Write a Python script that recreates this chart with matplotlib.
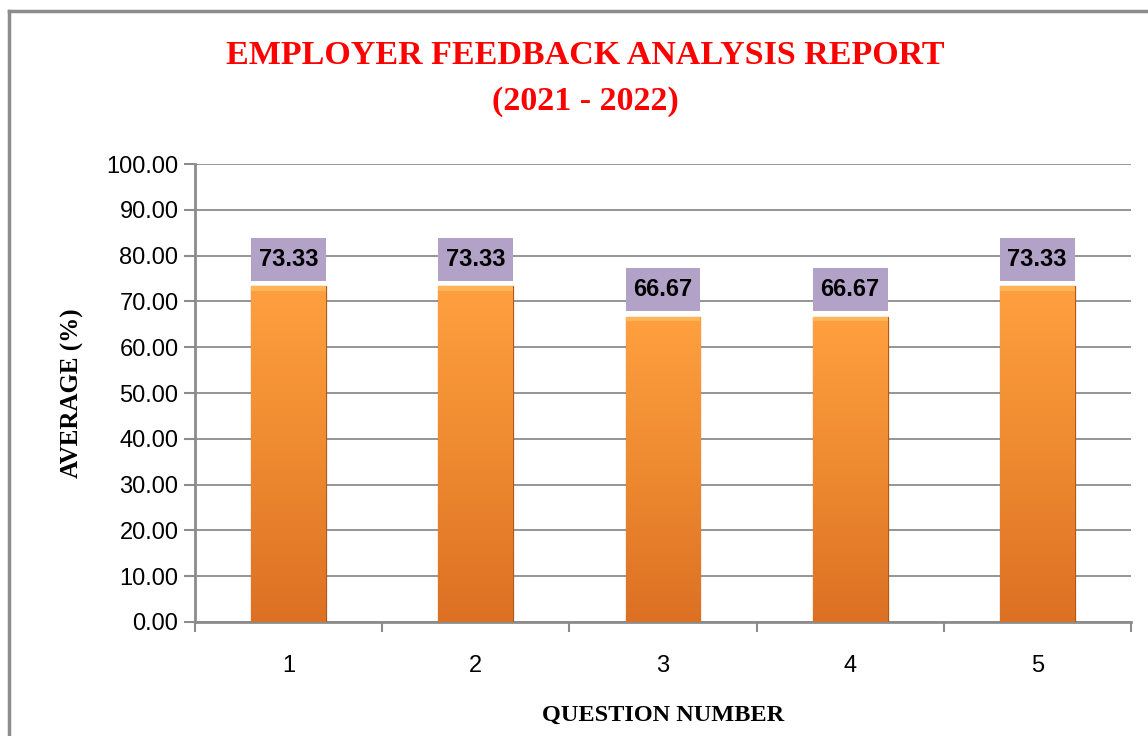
import matplotlib.pyplot as plt
import numpy as np
from matplotlib.patches import Rectangle
from matplotlib.lines import Line2D
from matplotlib.colors import LinearSegmentedColormap

questions = ["1", "2", "3", "4", "5"]
averages = [73.33, 73.33, 66.67, 66.67, 73.33]
y_ticks = [0, 10, 20, 30, 40, 50, 60, 70, 80, 90, 100]

fig = plt.figure(figsize=(11.48, 7.36), dpi=100)
ax = fig.add_axes([0.170, 0.155, 0.815, 0.622])

# outer chart border
fig.add_artist(Line2D([9 / 1148, 9 / 1148], [0, 1 - 11 / 736], color="#8c8c8c", lw=2.5, transform=fig.transFigure))
fig.add_artist(Line2D([9 / 1148, 1], [1 - 11 / 736, 1 - 11 / 736], color="#8c8c8c", lw=2.5, transform=fig.transFigure))

x = np.arange(len(questions))
bar_w = 0.4
grad = LinearSegmentedColormap.from_list("orng", ["#dc7024", "#ee8a30", "#ffa040"])
gimg = np.linspace(0, 1, 256).reshape(-1, 1)

bars = ax.bar(x, averages, width=bar_w, color="#f08a2e", edgecolor="#b0581a", linewidth=0.9, zorder=3)
for b, v in zip(bars, averages):
    im = ax.imshow(gimg, cmap=grad, aspect="auto", origin="lower",
                   extent=[b.get_x(), b.get_x() + bar_w, 0, v], zorder=3.5)
    im.set_clip_path(b)
    # light bevel at the top
    ax.add_patch(Rectangle((b.get_x(), v - 1.0), bar_w, 1.0, facecolor="#ffb458", edgecolor="none", zorder=4))
    # value box
    ax.add_patch(Rectangle((b.get_x(), v + 1.15), bar_w, 9.4, facecolor="#b3a2c7", edgecolor="none", zorder=4))
    ax.text(b.get_x() + bar_w / 2, v + 5.85, f"{v:.2f}", ha="center", va="center",
            fontsize=17, fontweight="bold", family="Liberation Sans", color="black", zorder=5)

ax.set_xlim(-0.5, len(questions) - 0.5)
ax.set_ylim(0, 100)
ax.set_yticks(y_ticks)
ax.set_yticklabels([f"{t:.2f}" for t in y_ticks], fontsize=17, family="Liberation Sans")
ax.set_xticks(x)
ax.set_xticklabels(questions, fontsize=17, family="Liberation Sans")
ax.set_xticks(np.arange(-0.5, len(questions)), minor=True)
ax.tick_params(axis="x", which="major", length=0, pad=24)
ax.tick_params(axis="x", which="minor", length=7, width=1.5, color="#8c8c8c", direction="out")
ax.tick_params(axis="y", length=8, width=1.5, color="#8c8c8c", pad=4)

ax.grid(axis="y", color="#8c8c8c", lw=1.3, zorder=0)
ax.set_axisbelow(True)
for s in ["top", "right"]:
    ax.spines[s].set_visible(False)
for s in ["left", "bottom"]:
    ax.spines[s].set_color("#8c8c8c")
    ax.spines[s].set_linewidth(2)

ax.set_ylabel("AVERAGE (%)", fontsize=18, fontweight="bold", family="Liberation Serif", labelpad=16)
ax.set_xlabel("QUESTION NUMBER", fontsize=17.5, fontweight="bold", family="Liberation Serif", labelpad=20)

fig.text(0.51, 0.925, "EMPLOYER FEEDBACK ANALYSIS REPORT", ha="center", va="center",
         fontsize=24.5, fontweight="bold", family="Liberation Serif", color="#ff0000")
fig.text(0.51, 0.862, "(2021 - 2022)", ha="center", va="center",
         fontsize=24.5, fontweight="bold", family="Liberation Serif", color="#ff0000")

fig.savefig("out.png", dpi=100)
